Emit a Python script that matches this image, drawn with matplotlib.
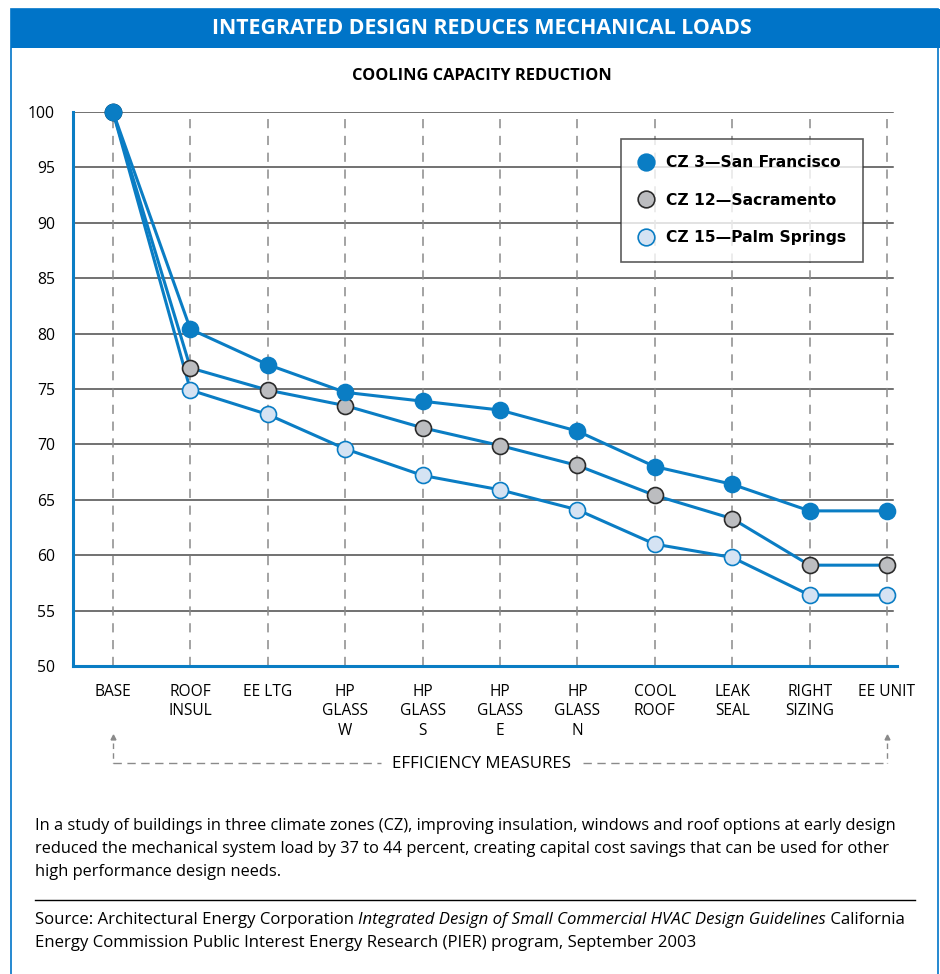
import matplotlib
matplotlib.use("Agg")
import matplotlib.pyplot as plt
from matplotlib.lines import Line2D

# ---- data -------------------------------------------------------------
measures = ["BASE", "ROOF\nINSUL", "EE LTG", "HP\nGLASS\nW", "HP\nGLASS\nS",
            "HP\nGLASS\nE", "HP\nGLASS\nN", "COOL\nROOF", "LEAK\nSEAL",
            "RIGHT\nSIZING", "EE UNIT"]
cz3_san_francisco = [100, 80.4, 77.2, 74.7, 73.9, 73.1, 71.2, 68.0, 66.4, 64.0, 64.0]
cz12_sacramento = [100, 76.9, 74.9, 73.5, 71.5, 69.9, 68.1, 65.4, 63.3, 59.1, 59.1]
cz15_palm_springs = [100, 74.9, 72.7, 69.6, 67.2, 65.9, 64.1, 61.0, 59.8, 56.4, 56.4]
series_labels = ["CZ 3\u2014San Francisco", "CZ 12\u2014Sacramento", "CZ 15\u2014Palm Springs"]
y_ticks = [50, 55, 60, 65, 70, 75, 80, 85, 90, 95, 100]

# ---- style ------------------------------------------------------------
BLUE = "#0074C8"
LINE = "#0A7DC4"
GRAY_FILL = "#BCBDC0"
LIGHT_FILL = "#D5E3F3"
GRID = "#4a4a4a"
DASH = "#8a8a8a"
FONT = "Open Sans"
BODY = 12.05

W, H = 940, 974
fig = plt.figure(figsize=(W / 100, H / 100), dpi=100)
fig.patch.set_facecolor("white")


def fx(x):
    return x / W


def fy(y):
    return 1 - y / H


# frame and title bar
fig.add_artist(plt.Rectangle((fx(11), -0.01), fx(938) - fx(11), fy(9) + 0.01, transform=fig.transFigure,
                             facecolor="none", edgecolor=BLUE, linewidth=1.2, zorder=5))
fig.add_artist(plt.Rectangle((fx(11), fy(48)), fx(940) - fx(11), fy(9) - fy(48),
                             transform=fig.transFigure, facecolor=BLUE, edgecolor="none", zorder=5))
fig.text(fx(482), fy(29), "INTEGRATED DESIGN REDUCES MECHANICAL LOADS", color="white",
         fontsize=15.4, fontweight="bold", family=FONT, ha="center", va="center", zorder=6)
fig.text(fx(482), fy(76), "COOLING CAPACITY REDUCTION", color="black",
         fontsize=11.8, fontweight="bold", family=FONT, ha="center", va="center")

# ---- axes -------------------------------------------------------------
ax = fig.add_axes([fx(73), fy(666), fx(897) - fx(73), fy(112) - fy(666)])
ax.patch.set_alpha(0)
n = len(measures)
xs = list(range(n))
step = (887 - 113) / (n - 1)
ax.set_xlim(-(113 - 73) / step, (n - 1) + (897 - 887) / step)
ax.set_ylim(50, 100)

for s in ["top", "right"]:
    ax.spines[s].set_visible(False)
for s in ["left", "bottom"]:
    ax.spines[s].set_color(LINE)
    ax.spines[s].set_linewidth(2.2)
    ax.spines[s].set_zorder(6)

for v in y_ticks[1:]:
    ax.axhline(v, color=GRID, lw=1.1, zorder=1, xmax=(893 - 73) / (897 - 73))
for x in xs:
    ax.axvline(x, color=DASH, lw=1.1, ls=(0, (6, 5)), zorder=1)

ax.set_yticks(y_ticks)
ax.set_yticklabels([str(v) for v in y_ticks], fontsize=11.3, family=FONT)
ax.tick_params(axis="y", length=0, pad=13)
ax.set_xticks(xs)
ax.set_xticklabels(measures, fontsize=11.2, family=FONT, linespacing=1.28, va="top")
ax.tick_params(axis="x", length=0, pad=13)

styles = [
    dict(mfc=LINE, mec=LINE),
    dict(mfc=GRAY_FILL, mec="#2b2b2b"),
    dict(mfc=LIGHT_FILL, mec=LINE),
]
all_series = [cz3_san_francisco, cz12_sacramento, cz15_palm_springs]
for i in [2, 1, 0]:
    ax.plot(xs, all_series[i], color=LINE, lw=2.2, marker="o", ms=11.5, mew=1.2,
            clip_on=False, zorder=3 + (2 - i), **styles[i])

# legend
handles = [Line2D([], [], ls="none", marker="o", ms=12, mew=1.2, **st) for st in styles]
leg = ax.legend(handles, series_labels, loc="upper left",
                bbox_to_anchor=((621 - 73) / (897 - 73), (666 - 139) / (666 - 112)),
                frameon=True, fancybox=False, borderpad=1.05, labelspacing=1.45,
                handletextpad=0.7, handlelength=1.15, borderaxespad=0,
                prop=dict(family="DejaVu Sans", weight="bold", size=11.2))
leg.get_frame().set_edgecolor("#333333")
leg.get_frame().set_linewidth(1.2)
leg.set_zorder(10)

# efficiency measures bracket
for xp in (113, 887):
    fig.add_artist(Line2D([fx(xp), fx(xp)], [fy(743), fy(763)], color=DASH, lw=1.0,
                          ls=(0, (4, 3)), transform=fig.transFigure))
    fig.add_artist(Line2D([fx(xp)], [fy(737)], marker="^", ms=3.5, color=DASH, ls="none",
                          transform=fig.transFigure))
fig.add_artist(Line2D([fx(113), fx(381)], [fy(763), fy(763)], color=DASH, lw=1.0,
                      ls=(0, (6, 4)), transform=fig.transFigure))
fig.add_artist(Line2D([fx(583), fx(887)], [fy(763), fy(763)], color=DASH, lw=1.0,
                      ls=(0, (6, 4)), transform=fig.transFigure))
fig.text(fx(482), fy(764), "EFFICIENCY MEASURES", fontsize=12.2, family=FONT,
         ha="center", va="center")

# notes
note_lines = [
    "In a study of buildings in three climate zones (CZ), improving insulation, windows and roof options at early design",
    "reduced the mechanical system load by 37 to 44 percent, creating capital cost savings that can be used for other",
    "high performance design needs.",
]
for k, line in enumerate(note_lines):
    fig.text(fx(35), fy(826 + 23 * k), line, fontsize=11.75, family=FONT, ha="left", va="center")
fig.add_artist(Line2D([fx(35), fx(915)], [fy(900), fy(900)], color="black", lw=1.0,
                      transform=fig.transFigure))
src1 = fig.text(fx(35), fy(920), "Source: Architectural Energy Corporation ", fontsize=BODY,
                family=FONT, ha="left", va="center")
fig.canvas.draw()
r = fig.canvas.get_renderer()
bb = src1.get_window_extent(r)
it = fig.text(bb.x1 / W, fy(920), "Integrated Design of Small Commercial HVAC Design Guidelines",
              fontsize=BODY, family=FONT, style="italic", ha="left", va="center")
bb2 = it.get_window_extent(r)
fig.text(bb2.x1 / W, fy(920), " California", fontsize=BODY, family=FONT, ha="left", va="center")
fig.text(fx(35), fy(943), "Energy Commission Public Interest Energy Research (PIER) program, September 2003",
         fontsize=BODY, family=FONT, ha="left", va="center")

fig.savefig("out.png", dpi=100)
